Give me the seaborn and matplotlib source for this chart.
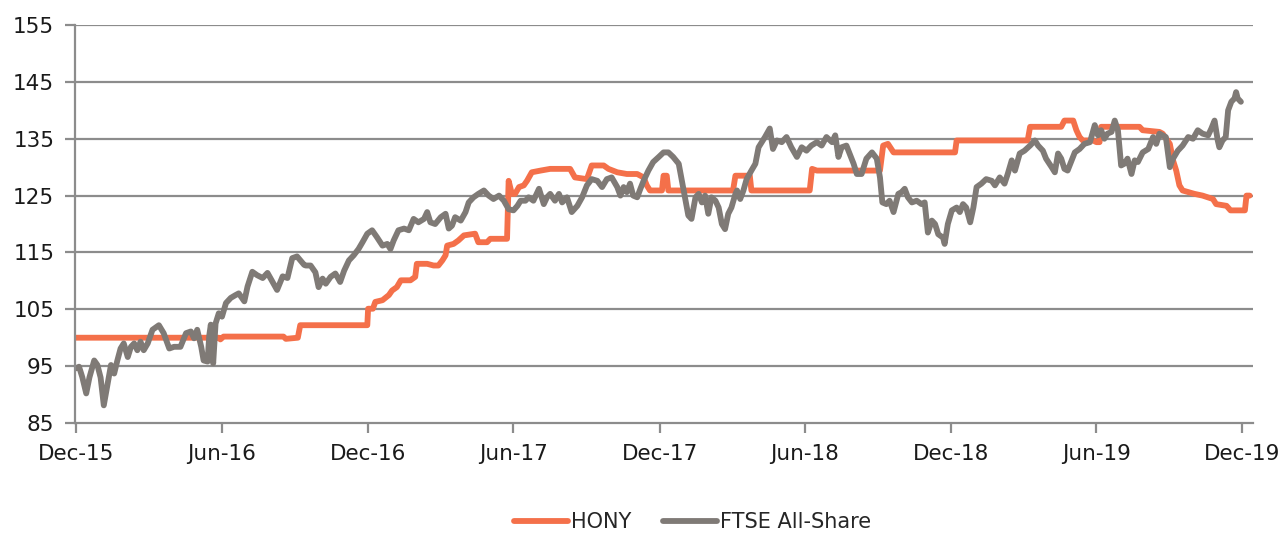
import matplotlib
matplotlib.use('Agg')
from matplotlib import pyplot as plt
import matplotlib.dates as mdates
import pandas as pd
import seaborn as sns

START = pd.Timestamp('2015-12-01')

# FTSE All-Share, rebased (days after 1 Dec 2015, value)
ftse_days = [0, 4, 8, 13, 17, 23, 27, 31, 35, 40, 44, 48, 52, 56, 60, 65, 69, 73, 77, 81,
             85, 90, 96, 104, 110, 117, 123, 131, 138, 144, 148, 152, 157, 160, 165, 167, 169, 172, 175, 179,
             183, 188, 194, 200, 204, 211, 215, 221, 227, 234, 240, 246, 252, 259, 265, 271, 277, 286, 288, 294,
             300, 304, 309, 313, 319, 325, 331, 336, 342, 348, 354, 359, 365, 371, 377, 384, 390, 394, 398, 404,
             411, 417, 423, 429, 436, 440, 444, 450, 457, 463, 467, 471, 475, 482, 488, 492, 498, 504, 511, 517,
             523, 530, 536, 542, 548, 553, 557, 563, 567, 573, 580, 586, 590, 594, 600, 605, 609, 615, 621, 628,
             634, 640, 646, 653, 659, 665, 671, 678, 682, 686, 690, 694, 698, 703, 707, 711, 717, 723, 730, 736,
             742, 748, 755, 759, 763, 767, 771, 776, 780, 784, 788, 792, 796, 801, 805, 809, 813, 817, 821, 826,
             828, 832, 836, 840, 846, 851, 855, 859, 863, 869, 873, 878, 884, 890, 896, 903, 909, 915, 921, 928,
             934, 940, 947, 951, 955, 959, 965, 969, 974, 978, 984, 990, 997, 1003, 1007, 1010, 1015, 1019, 1024, 1030,
             1034, 1038, 1042, 1047, 1053, 1059, 1063, 1067, 1072, 1076, 1080, 1086, 1088, 1092, 1097, 1103, 1107, 1111, 1115, 1120,
             1124, 1128, 1134, 1140, 1147, 1151, 1157, 1163, 1167, 1172, 1176, 1182, 1188, 1195, 1201, 1205, 1211, 1215, 1222, 1226,
             1230, 1234, 1238, 1242, 1247, 1251, 1257, 1263, 1270, 1276, 1280, 1284, 1288, 1292, 1297, 1301, 1305, 1309, 1313, 1317,
             1322, 1326, 1330, 1336, 1343, 1349, 1353, 1357, 1365, 1370, 1374, 1380, 1386, 1393, 1399, 1405, 1411, 1418, 1422, 1426,
             1430, 1432, 1436, 1440, 1443, 1447, 1451, 1453, 1455, 1459]
ftse_values = [94.6, 94.9, 93.1, 90.2, 93.0, 96.0, 95.2, 93.0, 88.1, 92.0, 95.2, 93.7, 96.0, 98.1, 99.0, 96.6, 98.4, 99.0, 97.8, 99.3,
               97.8, 99.0, 101.4, 102.2, 100.8, 98.1, 98.4, 98.4, 100.8, 101.1, 99.9, 101.4, 98.4, 96.0, 95.8, 100.3, 102.3, 95.5, 102.5, 104.3,
               103.7, 106.1, 107.0, 107.5, 107.8, 106.4, 109.0, 111.6, 111.0, 110.5, 111.4, 109.9, 108.4, 110.8, 110.5, 114.0, 114.3, 112.8, 112.7, 112.7,
               111.5, 108.9, 110.4, 109.5, 110.7, 111.3, 109.8, 111.8, 113.6, 114.5, 115.6, 116.8, 118.3, 118.9, 117.7, 116.2, 116.5, 115.6, 117.1, 118.9,
               119.2, 118.9, 120.9, 120.3, 120.9, 122.1, 120.3, 120.0, 121.2, 121.8, 119.2, 119.7, 121.2, 120.6, 122.1, 123.8, 124.7, 125.3, 125.9, 125.0,
               124.4, 125.0, 124.1, 122.6, 122.4, 123.2, 124.1, 124.1, 124.7, 124.1, 126.2, 123.5, 124.7, 125.3, 124.1, 125.3, 123.8, 124.7, 122.1, 123.2,
               124.7, 126.8, 127.9, 127.6, 126.5, 127.9, 128.2, 126.5, 125.0, 126.5, 125.6, 127.1, 125.0, 124.7, 126.2, 127.6, 129.4, 130.9, 131.8, 132.6,
               132.6, 131.8, 130.6, 127.6, 124.7, 121.5, 120.9, 124.7, 125.3, 123.8, 125.0, 121.8, 124.7, 124.1, 122.9, 120.0, 119.1, 121.8, 122.9, 125.3,
               125.9, 124.4, 125.9, 127.9, 129.4, 130.6, 133.5, 134.4, 135.3, 136.8, 133.2, 134.7, 134.4, 135.3, 133.5, 131.8, 133.5, 132.9, 133.8, 134.4,
               133.8, 135.3, 134.4, 135.6, 131.8, 133.5, 133.8, 132.4, 130.6, 128.8, 128.8, 131.5, 132.6, 131.5, 128.2, 123.8, 123.5, 124.1, 122.1, 125.3,
               125.6, 126.2, 124.7, 123.8, 124.1, 123.5, 123.8, 118.5, 120.6, 120.0, 118.2, 117.6, 116.5, 120.0, 122.4, 122.9, 122.1, 123.5, 122.9, 120.3,
               122.9, 126.5, 127.1, 127.9, 127.6, 126.8, 128.2, 127.1, 128.8, 131.2, 129.4, 132.4, 132.9, 133.8, 134.7, 133.8, 132.9, 131.5, 130.0, 129.1,
               132.4, 131.5, 129.7, 129.4, 131.2, 132.6, 133.2, 134.1, 134.4, 137.4, 135.6, 136.5, 135.0, 135.9, 136.2, 138.2, 136.5, 130.3, 130.6, 131.5,
               128.8, 131.2, 130.9, 132.6, 133.2, 135.3, 134.1, 135.9, 135.3, 130.0, 131.5, 132.9, 133.8, 135.3, 135.0, 136.5, 135.9, 135.6, 136.8, 138.2,
               134.7, 133.5, 134.7, 135.3, 140.0, 141.5, 142.1, 143.2, 142.1, 141.5]

# HONY, rebased, stepwise
hony_days = [0, 179, 181, 185, 260, 263, 278, 281, 365, 366, 372, 375, 384, 392, 396, 402, 407, 419, 425, 427,
             440, 448, 454, 459, 463, 465, 473, 479, 486, 500, 504, 515, 519, 540, 542, 546, 550, 555, 561, 565,
             571, 582, 594, 619, 625, 640, 646, 661, 667, 678, 690, 703, 711, 715, 719, 734, 736, 740, 742, 823,
             826, 844, 846, 919, 922, 928, 1007, 1011, 1017, 1024, 1101, 1103, 1192, 1195, 1234, 1238, 1249, 1253, 1257, 1261,
             1274, 1278, 1282, 1284, 1332, 1336, 1357, 1361, 1370, 1374, 1378, 1382, 1386, 1401, 1411, 1424, 1428, 1441, 1446, 1464,
             1466, 1470]
hony_values = [100.0, 100.0, 99.7, 100.2, 100.2, 99.8, 100.0, 102.2, 102.2, 105.1, 105.1, 106.3, 106.6, 107.5, 108.3, 108.9, 110.1, 110.1, 110.7, 113.0,
               113.0, 112.7, 112.7, 113.6, 114.5, 116.2, 116.5, 117.1, 118.0, 118.3, 116.8, 116.8, 117.4, 117.4, 127.6, 125.3, 125.3, 126.5, 126.8, 127.6,
               129.1, 129.4, 129.7, 129.7, 128.2, 127.9, 130.3, 130.3, 129.7, 129.1, 128.8, 128.8, 128.2, 126.8, 125.9, 125.9, 128.5, 128.5, 125.9, 125.9,
               128.5, 128.5, 125.9, 125.9, 129.7, 129.4, 129.4, 133.8, 134.1, 132.6, 132.6, 134.7, 134.7, 137.1, 137.1, 138.2, 138.2, 136.5, 135.3, 134.7,
               134.7, 134.4, 134.4, 137.1, 137.1, 136.5, 136.2, 135.9, 134.1, 131.2, 129.4, 126.8, 125.9, 125.3, 125.0, 124.4, 123.5, 123.2, 122.4, 122.4,
               125.0, 125.0]

tick_dates = pd.date_range('2015-12-01', '2019-12-01', freq='6MS')

df = pd.concat([
    pd.DataFrame({'Date': START + pd.to_timedelta(hony_days, unit='D'), 'Value': hony_values, 'Series': 'HONY'}),
    pd.DataFrame({'Date': START + pd.to_timedelta(ftse_days, unit='D'), 'Value': ftse_values, 'Series': 'FTSE All-Share'}),
])

sns.set_style('white')
plt.rcParams['font.family'] = ['DejaVu Sans']

fig = plt.figure(figsize=(12.85, 5.33), dpi=100)
ax = fig.add_axes([0.0584, 0.2064, 0.9166, 0.7466])

grid_col = '#8c8c8c'
ax.set_ylim(85, 155)
ax.set_yticks(range(85, 156, 10))
for v in range(95, 156, 10):
    ax.axhline(v, color=grid_col, lw=1.6, zorder=0)

sns.lineplot(ax=ax, data=df, x='Date', y='Value', hue='Series',
             palette={'HONY': '#f4704a', 'FTSE All-Share': '#7f7a76'},
             hue_order=['HONY', 'FTSE All-Share'], linewidth=4.2, estimator=None, sort=False)

ax.set_xlim(START - pd.Timedelta(days=1), START + pd.Timedelta(days=1474))
ax.set_xticks(tick_dates)
ax.xaxis.set_major_formatter(mdates.DateFormatter('%b-%y'))
ax.set_xlabel('')
ax.set_ylabel('')

for side in ['top', 'right']:
    ax.spines[side].set_visible(False)
for side in ['left', 'bottom']:
    ax.spines[side].set_color(grid_col)
    ax.spines[side].set_linewidth(1.6)
ax.tick_params(axis='both', length=7, width=1.6, color=grid_col, labelsize=15.5, labelcolor='#1a1a1a')
ax.tick_params(axis='y', pad=8, left=True)
ax.tick_params(axis='x', pad=8, bottom=True)

ax.legend(loc='center', bbox_to_anchor=(0.539, 0.02), bbox_transform=fig.transFigure,
          ncol=2, frameon=False, fontsize=15, handlelength=2.6, handletextpad=0.15,
          columnspacing=1.5)

fig.savefig('out.png', dpi=100)
